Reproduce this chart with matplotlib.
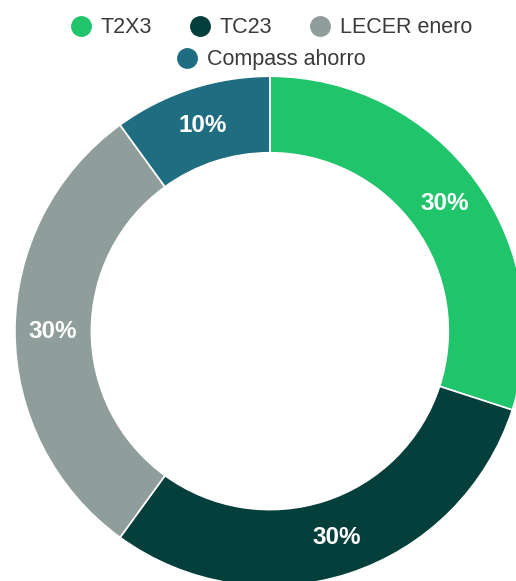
import matplotlib.pyplot as plt
from matplotlib.lines import Line2D

plt.rcParams['font.family'] = ['Liberation Sans', 'DejaVu Sans']

fondos = ['T2X3', 'TC23', 'LECER enero', 'Compass ahorro']
pesos = [30, 30, 30, 10]
colores = ['#1fc46b', '#043f3b', '#8f9d9b', '#1f6d80']

fig = plt.figure(figsize=(5.16, 5.81), dpi=100)
# el anillo sobresale un poco por la derecha y por abajo
ax = fig.add_axes([0.029, -0.009, 0.988, 0.878])

wedges, textos = ax.pie(pesos, colors=colores, startangle=90, counterclock=False,
                        radius=1.0,
                        wedgeprops=dict(width=0.30, edgecolor='white', linewidth=1.2),
                        labels=[f'{p}%' for p in pesos], labeldistance=0.85,
                        textprops=dict(color='white', fontsize=17.5, fontweight='bold',
                                       ha='center', va='center'))
ax.set_xlim(-1, 1)
ax.set_ylim(-1, 1)
ax.set_aspect('equal')

# leyenda en dos filas centradas
def marca(c):
    return Line2D([0], [0], marker='o', color='w', markerfacecolor=c,
                  markeredgecolor=c, markersize=14)

leg1 = fig.legend([marca(c) for c in colores[:3]], fondos[:3], loc='center',
                  bbox_to_anchor=(0.525, 0.952), ncol=3, frameon=False, fontsize=15.5,
                  handletextpad=0.4, columnspacing=1.75, handlelength=1.0)
leg2 = fig.legend([marca(colores[3])], fondos[3:], loc='center',
                  bbox_to_anchor=(0.525, 0.897), frameon=False, fontsize=15.5,
                  handletextpad=0.4, handlelength=1.0)
for leg in (leg1, leg2):
    for t in leg.get_texts():
        t.set_color('#3a3a3a')

fig.savefig('out.png', dpi=100, facecolor='white')
